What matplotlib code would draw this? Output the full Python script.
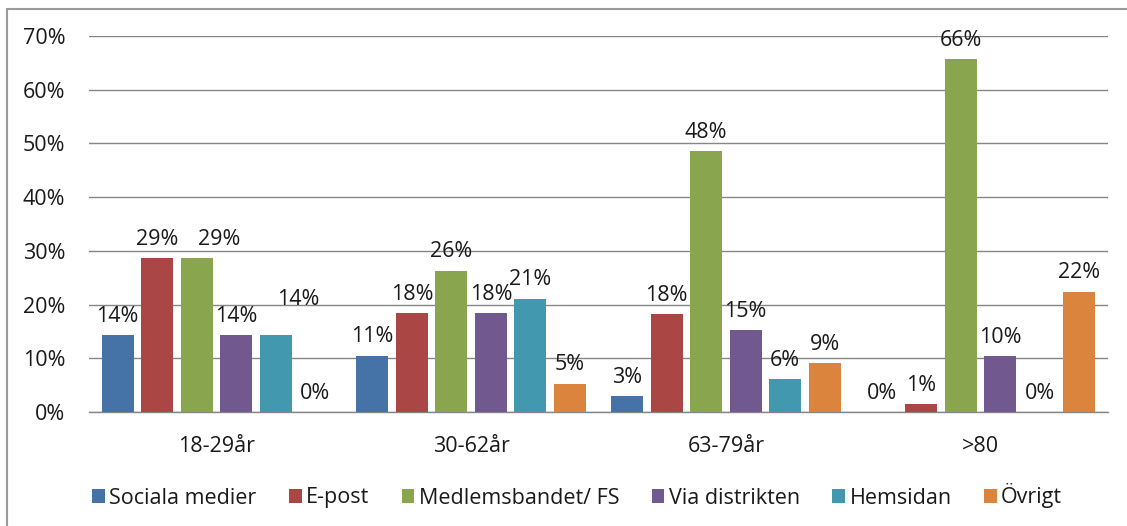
import matplotlib
matplotlib.use("Agg")
import matplotlib.pyplot as plt
from matplotlib.patches import Rectangle
import numpy as np

categories = ["18-29år", "30-62år", "63-79år", ">80"]
series_names = ["Sociala medier", "E-post", "Medlemsbandet/ FS", "Via distrikten", "Hemsidan", "Övrigt"]
sociala = [14.3, 10.5, 3.0, 0.0]
epost = [28.6, 18.4, 18.2, 1.4]
medlemsbandet = [28.6, 26.3, 48.5, 65.7]
distrikten = [14.3, 18.4, 15.2, 10.4]
hemsidan = [14.3, 21.1, 6.1, 0.0]
ovrigt = [0.0, 5.3, 9.1, 22.4]
label_texts = [
    ["14%", "11%", "3%", "0%"],
    ["29%", "18%", "18%", "1%"],
    ["29%", "26%", "48%", "66%"],
    ["14%", "18%", "15%", "10%"],
    ["14%", "21%", "6%", "0%"],
    ["0%", "5%", "9%", "22%"],
]
yticks = [0, 10, 20, 30, 40, 50, 60, 70]

colors = ["#4572A7", "#AA4643", "#89A54E", "#71588F", "#4198AF", "#DB843D"]
all_series = [sociala, epost, medlemsbandet, distrikten, hemsidan, ovrigt]

plt.rcParams['font.family'] = ['Open Sans', 'DejaVu Sans']
W, H = 1127, 526
fig = plt.figure(figsize=(W / 100, H / 100), dpi=100)
ax = fig.add_axes([89 / W, 1 - 412 / H, (1108 - 89) / W, (412 - 36) / H])

fs = 15.5
pitch = 39.5 / 254.75
bw = 32 / 254.75
x = np.arange(len(categories))
txtcol = "#1a1a1a"
# manually moved labels in the original: (series, category) -> (dx, dy) in points
nudges = {(2, 0): (16, 6), (4, 0): (16, 18)}
for j, (vals, name, col) in enumerate(zip(all_series, series_names, colors)):
    xs = x + (j - 2.5) * pitch
    ax.bar(xs, vals, width=bw, color=col, label=name, zorder=3, linewidth=0)
    for i, (xv, v) in enumerate(zip(xs, vals)):
        dx, dy = nudges.get((j, i), (0, 6))
        ax.annotate(label_texts[j][i], (xv, v), xytext=(dx, dy), textcoords="offset points",
                    ha="center", va="bottom", fontsize=fs, color=txtcol, zorder=4)

ax.set_xlim(-0.5, 3.5)
ax.set_ylim(0, 70)
ax.set_yticks(yticks)
ax.set_yticklabels([f"{t}%" for t in yticks])
ax.set_xticks(x)
ax.set_xticklabels(categories)
ax.tick_params(axis="both", length=0, labelsize=fs, colors=txtcol)
ax.tick_params(axis="y", pad=17)
ax.tick_params(axis="x", pad=17)
ax.yaxis.grid(True, color="#868686", linewidth=1, zorder=0)
ax.set_axisbelow(True)
for s in ["top", "right", "left"]:
    ax.spines[s].set_visible(False)
ax.spines["bottom"].set_color("#868686")
ax.spines["bottom"].set_linewidth(1)

fig.legend(loc="center", bbox_to_anchor=(0.512, 1 - 496 / H), ncol=6, frameon=False,
           fontsize=fs, handlelength=0.6, handleheight=0.6, handletextpad=0.2,
           columnspacing=1.5, labelcolor=txtcol)

fig.patches.append(Rectangle((7 / W, -0.1), 1.2, 1 - 9 / H + 0.1, transform=fig.transFigure,
                             fill=False, edgecolor="#9a9a9a", linewidth=1.5))

fig.savefig("out.png", dpi=100)
